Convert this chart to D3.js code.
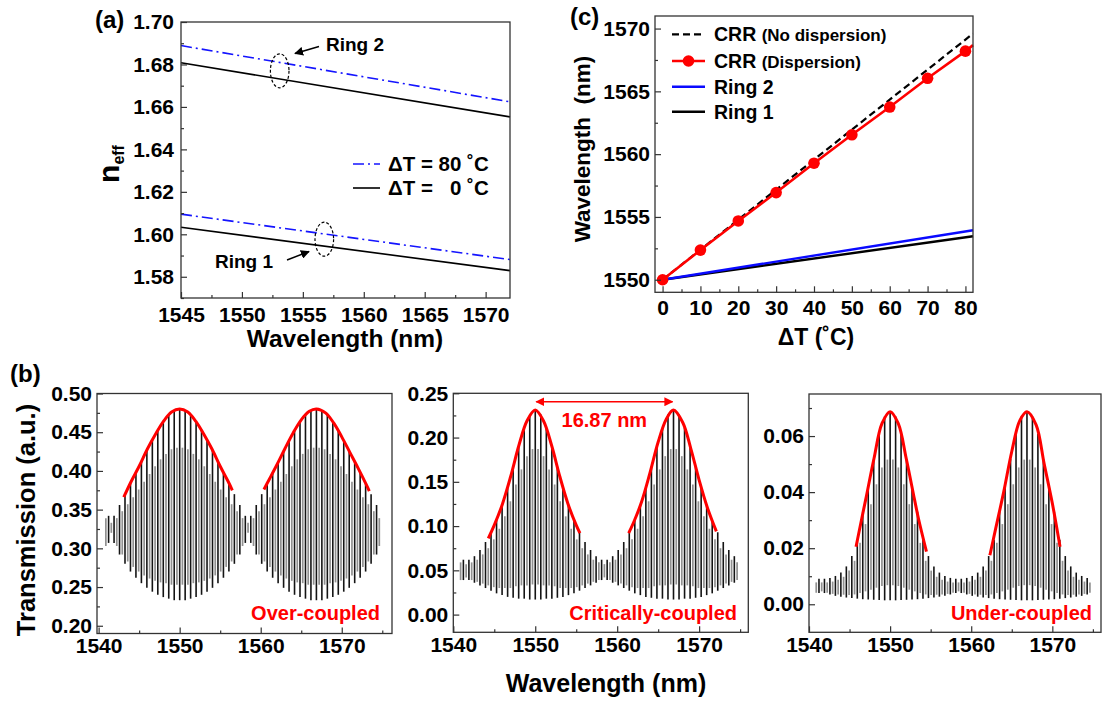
<!DOCTYPE html>
<html><head><meta charset="utf-8">
<script src="https://cdn.jsdelivr.net/npm/d3@7"></script>
<style>
body{margin:0;background:#fff;}
svg text{font-family:"Liberation Sans",Arial,sans-serif;font-weight:bold;}
</style></head><body>
<svg id="fig" width="1102" height="702"></svg>
<script>
// ---------- Panel (a) data ----------
const aWavelength = [1545, 1572];
const aRing2Hot  = [1.6889, 1.6624];
const aRing2Cold = [1.6808, 1.6553];
const aRing1Hot  = [1.6095, 1.5881];
const aRing1Cold = [1.6033, 1.5829];
const aXTicks = [1545, 1550, 1555, 1560, 1565, 1570];
const aYTicks = [1.58, 1.60, 1.62, 1.64, 1.66, 1.68, 1.70];
const aEllipses = [[1553.1, 1.6770], [1556.76, 1.5977]];

// ---------- Panel (c) data ----------
const cDeltaT = [0, 10, 20, 30, 40, 50, 60, 70, 80];
const cCrrDispersion = [1550.0, 1552.36, 1554.68, 1556.94, 1559.28, 1561.54, 1563.75, 1566.04, 1568.2];
const cEdgeT = 82;
const cCrrDispersionEdge = 1568.68;
const cLineT = [0, 82];
const cCrrNoDispersion = [1550.0, 1569.6];
const cRing2 = [1550.0, 1553.94];
const cRing1 = [1550.0, 1553.46];
const cXTicks = [0, 10, 20, 30, 40, 50, 60, 70, 80];
const cYTicks = [1550, 1555, 1560, 1565, 1570];

// ---------- Panel (b) data ----------
const bXTicks = [1540, 1550, 1560, 1570];
const bFringeStart = 1541.23, bFringeStep = 0.6748;
const bPeakWl = d3.range(50).map(k => bFringeStart + k * bFringeStep);
const bGrayWl = d3.range(51).map(k => bFringeStart - bFringeStep / 2 + k * bFringeStep);

// over-coupled
const ocPeakTop = [.342,.342,.356,.370,.384,.398,.412,.426,.440,.453,.464,.473,.478,.480,.478,.473,.464,.453,.440,.426,.412,.398,.384,.370,.356,
                   .342,.342,.356,.370,.384,.398,.412,.426,.440,.453,.464,.473,.478,.480,.478,.473,.464,.453,.440,.426,.412,.398,.384,.370,.356];
const ocPeakBot = [.307,.307,.292,.280,.270,.262,.255,.249,.244,.240,.237,.235,.233,.233,.233,.235,.237,.240,.244,.249,.255,.262,.270,.280,.292,
                   .307,.307,.292,.280,.270,.262,.255,.249,.244,.240,.237,.235,.233,.233,.233,.235,.237,.240,.244,.249,.255,.262,.270,.280,.292];
const ocGrayTop = [.339,.333,.339,.348,.357,.366,.376,.386,.396,.406,.415,.422,.428,.430,.430,.428,.422,.415,.406,.396,.386,.376,.366,.357,.348,
                   .339,.333,.339,.348,.357,.366,.376,.386,.396,.406,.415,.422,.428,.430,.430,.428,.422,.415,.406,.396,.386,.376,.366,.357,.348,.339];
const ocGrayBot = [.303,.320,.303,.292,.283,.276,.270,.265,.261,.258,.256,.255,.253,.253,.253,.253,.255,.256,.258,.261,.265,.270,.276,.283,.292,
                   .303,.320,.303,.292,.283,.276,.270,.265,.261,.258,.256,.255,.253,.253,.253,.253,.255,.256,.258,.261,.265,.270,.276,.283,.292,.303];
const ocRed1Wl = [1543.1,1544,1545,1546,1547,1548,1549,1550,1551,1552,1553,1554,1555,1556,1556.5];
const ocRed1   = [.366,.386,.406,.428,.447,.464,.476,.480,.476,.464,.447,.428,.406,.386,.375];
const ocRed2Wl = [1560.4,1561,1562,1563,1564,1565,1566,1566.87,1568,1569,1570,1571,1572,1573,1573.4];
const ocRed2   = [.376,.388,.408,.429,.449,.466,.477,.480,.475,.462,.444,.424,.404,.383,.374];

// critically-coupled
const ccPeakTop = [.062,.062,.066,.073,.082,.093,.107,.124,.144,.167,.190,.211,.226,.231,.226,.211,.190,.167,.144,.124,.107,.093,.082,.073,.066,
                   .062,.062,.066,.073,.082,.093,.107,.124,.144,.167,.190,.211,.226,.231,.226,.211,.190,.167,.144,.124,.107,.093,.082,.073,.066];
const ccPeakBot = [.039,.039,.036,.033,.030,.027,.024,.022,.020,.019,.018,.018,.017,.017,.017,.018,.018,.019,.020,.022,.024,.027,.030,.033,.036,
                   .039,.039,.036,.033,.030,.027,.024,.022,.020,.019,.018,.018,.017,.017,.017,.018,.018,.019,.020,.022,.024,.027,.030,.033,.036];
const ccGrayTop = [.059,.057,.059,.062,.068,.075,.085,.097,.111,.128,.147,.164,.179,.187,.187,.179,.164,.147,.128,.111,.097,.085,.075,.068,.062,
                   .059,.057,.059,.062,.068,.075,.085,.097,.111,.128,.147,.164,.179,.187,.187,.179,.164,.147,.128,.111,.097,.085,.075,.068,.062,.059];
const ccGrayBot = [.039,.042,.039,.037,.035,.033,.031,.030,.030,.030,.032,.033,.033,.034,.034,.033,.033,.032,.030,.030,.030,.031,.033,.035,.037,
                   .039,.042,.039,.037,.035,.033,.031,.030,.030,.030,.032,.033,.033,.034,.034,.033,.033,.032,.030,.030,.030,.031,.033,.035,.037,.039];
const ccRed1Wl = [1544.27,1545,1546,1547,1548,1549,1550,1551,1552,1553,1554,1555,1555.45];
const ccRed1   = [.086,.101,.125,.156,.191,.219,.231,.219,.191,.156,.125,.101,.092];
const ccRed2Wl = [1561.4,1562,1563,1564,1565,1566,1566.87,1568,1569,1570,1571,1572.1];
const ccRed2   = [.092,.104,.128,.160,.195,.221,.231,.217,.187,.152,.121,.094];
const ccSpacing = [1550, 1566.87];
const ccSpacingLevel = 0.2405;
const ccSpacingLabel = "16.87 nm";

// under-coupled
const ucPeakTop = [.0091,.0091,.0094,.0101,.0113,.0135,.0172,.0230,.0330,.0422,.0518,.0608,.0670,.0687,.0670,.0608,.0518,.0422,.0330,.0230,.0172,.0135,.0113,.0101,.0094,
                   .0091,.0091,.0094,.0101,.0113,.0135,.0172,.0230,.0330,.0422,.0518,.0608,.0670,.0687,.0670,.0608,.0518,.0422,.0330,.0230,.0172,.0135,.0113,.0101,.0094];
const ucPeakBot = [.0040,.0040,.0035,.0030,.0027,.0024,.0022,.0020,.0018,.0017,.0016,.0015,.0014,.0014,.0014,.0015,.0016,.0017,.0018,.0020,.0022,.0024,.0027,.0030,.0035,
                   .0040,.0040,.0035,.0030,.0027,.0024,.0022,.0020,.0018,.0017,.0016,.0015,.0014,.0014,.0014,.0015,.0016,.0017,.0018,.0020,.0022,.0024,.0027,.0030,.0035];
const ucGrayTop = [.0078,.0078,.0078,.0081,.0087,.0098,.0120,.0155,.0219,.0286,.0357,.0428,.0488,.0516,.0516,.0488,.0428,.0357,.0286,.0219,.0155,.0120,.0098,.0087,.0081,
                   .0078,.0078,.0078,.0081,.0087,.0098,.0120,.0155,.0219,.0286,.0357,.0428,.0488,.0516,.0516,.0488,.0428,.0357,.0286,.0219,.0155,.0120,.0098,.0087,.0081,.0078];
const ucGrayBot = [.0041,.0046,.0041,.0037,.0035,.0034,.0033,.0035,.0040,.0046,.0052,.0059,.0065,.0068,.0068,.0065,.0059,.0052,.0046,.0040,.0035,.0033,.0034,.0035,.0037,
                   .0041,.0046,.0041,.0037,.0035,.0034,.0033,.0035,.0040,.0046,.0052,.0059,.0065,.0068,.0068,.0065,.0059,.0052,.0046,.0040,.0035,.0033,.0034,.0035,.0037,.0041];
const ucRed1Wl = [1545.8,1546.5,1547,1548,1549,1550,1551,1552,1553,1553.5,1554.48];
const ucRed1   = [.0205,.0305,.0375,.0518,.0645,.0687,.0645,.0518,.0375,.0305,.0188];
const ucRed2Wl = [1562.3,1563,1564,1565,1566,1566.87,1568,1569,1570,1570.95];
const ucRed2   = [.0175,.0268,.0400,.0545,.0656,.0687,.0640,.0500,.0360,.0205];

// ---------- drawing ----------
const FONT = '"Liberation Sans", Arial, sans-serif';
const TICK_FS = 21;
const svg = d3.select("#fig");
const defs = svg.append("defs");
function marker(id, color, orient) {
  defs.append("marker").attr("id", id).attr("viewBox", "0 0 10 10").attr("refX", 9).attr("refY", 5)
    .attr("markerWidth", 9).attr("markerHeight", 9).attr("markerUnits", "userSpaceOnUse").attr("orient", orient)
    .append("path").attr("d", "M0,0 L10,5 L0,10 z").attr("fill", color);
}
marker("arrBlack", "#000", "auto");
marker("arrRed", "#f00", "auto-start-reverse");

function txt(x, y, s, size, opts = {}) {
  const t = svg.append("text").attr("x", x).attr("y", y).attr("font-size", size)
    .attr("font-family", FONT).attr("font-weight", "bold").attr("fill", opts.fill || "#000")
    .attr("text-anchor", opts.anchor || "start").style("white-space", "pre").attr("xml:space", "preserve");
  if (opts.rotate) t.attr("transform", `rotate(-90,${x},${y})`);
  t.text(s);
  return t;
}

function axesFrame(x, y, o) {
  const g = svg.append("g");
  const [xa, xb] = x.range(), [yb, ya] = y.range();
  const style = s => {
    s.select(".domain").remove();
    s.selectAll("line").attr("stroke", "#333").attr("stroke-width", 1.2);
    s.selectAll("text").attr("fill", "#000").attr("font-size", TICK_FS).attr("font-family", FONT).attr("font-weight", "bold");
  };
  g.append("g").attr("transform", `translate(0,${yb})`)
    .call(d3.axisBottom(x).tickValues(o.xMinor).tickSize(-3).tickFormat("")).call(style);
  g.append("g").attr("transform", `translate(0,${yb})`)
    .call(d3.axisBottom(x).tickValues(o.xTicks).tickSize(-6).tickPadding(o.xPad).tickFormat(d3.format("d"))).call(style);
  g.append("g").attr("transform", `translate(${xa},0)`)
    .call(d3.axisLeft(y).tickValues(o.yMinor).tickSize(-3).tickFormat("")).call(style);
  g.append("g").attr("transform", `translate(${xa},0)`)
    .call(d3.axisLeft(y).tickValues(o.yTicks).tickSize(-6).tickPadding(o.yPad).tickFormat(o.yFmt)).call(style);
  g.append("rect").attr("x", xa).attr("y", ya).attr("width", xb - xa).attr("height", yb - ya)
    .attr("fill", "none").attr("stroke", "#333").attr("stroke-width", 1.3);
}

// ===== Panel (a) =====
{
  const x = d3.scaleLinear([1545, 1572], [181, 510]);
  const y = d3.scaleLinear([1.57, 1.70], [298, 22]);
  const line = d3.line().x(d => x(d[0])).y(d => y(d[1]));
  const series = [
    [aRing2Hot, "#1414ff", "11,4,2,4"], [aRing2Cold, "#000", null],
    [aRing1Hot, "#1414ff", "11,4,2,4"], [aRing1Cold, "#000", null]];
  series.forEach(([vals, col, dash]) => {
    svg.append("path").datum(aWavelength.map((w, i) => [w, vals[i]])).attr("d", line)
      .attr("fill", "none").attr("stroke", col).attr("stroke-width", 1.6).attr("stroke-dasharray", dash);
  });
  aEllipses.forEach(([w, n]) => {
    svg.append("ellipse").attr("cx", x(w)).attr("cy", y(n)).attr("rx", 9.3).attr("ry", 17)
      .attr("fill", "none").attr("stroke", "#000").attr("stroke-width", 1.2).attr("stroke-dasharray", "3,2");
  });
  axesFrame(x, y, { xTicks: aXTicks, xMinor: d3.range(1547.5, 1570, 5), yTicks: aYTicks,
    yMinor: [1.57, 1.59, 1.61, 1.63, 1.65, 1.67, 1.69], xPad: 9, yPad: 7, yFmt: d3.format(".2f") });
  // annotations
  txt(326, 51, "Ring 2", 19);
  svg.append("line").attr("x1", 319).attr("y1", 46.5).attr("x2", 295).attr("y2", 53.5)
    .attr("stroke", "#000").attr("stroke-width", 1.5).attr("marker-end", "url(#arrBlack)");
  txt(215, 268, "Ring 1", 19);
  svg.append("line").attr("x1", 287).attr("y1", 260).attr("x2", 309).attr("y2", 251.5)
    .attr("stroke", "#000").attr("stroke-width", 1.5).attr("marker-end", "url(#arrBlack)");
  // legend
  svg.append("line").attr("x1", 353).attr("x2", 380).attr("y1", 164).attr("y2", 164)
    .attr("stroke", "#1414ff").attr("stroke-width", 1.6).attr("stroke-dasharray", "11,4,2,4");
  txt(388, 171, "ΔT = 80 ˚C", 20.5);
  svg.append("line").attr("x1", 353).attr("x2", 380).attr("y1", 188).attr("y2", 188)
    .attr("stroke", "#000").attr("stroke-width", 1.6);
  txt(388, 195, "ΔT =   0 ˚C", 20.5);
  txt(95, 28, "(a)", 24);
  txt(345, 347, "Wavelength (nm)", 24.5, { anchor: "middle" });
  const nt = svg.append("text").attr("transform", "translate(119,164) rotate(-90)")
    .attr("text-anchor", "middle").attr("font-family", FONT).attr("font-weight", "bold").attr("fill", "#000");
  nt.append("tspan").attr("font-size", 30).text("n");
  nt.append("tspan").attr("font-size", 16).attr("dy", 5).text("eff");
}

// ===== Panel (c) =====
{
  const x = d3.scaleLinear([-2, 82], [655, 973]);
  const y = d3.scaleLinear([1549, 1571], [292.3, 16]);
  const line = d3.line().x(d => x(d[0])).y(d => y(d[1]));
  const two = v => cLineT.map((t, i) => [t, v[i]]);
  svg.append("path").datum(two(cRing1)).attr("d", line).attr("fill", "none").attr("stroke", "#000").attr("stroke-width", 2.4);
  svg.append("path").datum(two(cRing2)).attr("d", line).attr("fill", "none").attr("stroke", "#0a0aff").attr("stroke-width", 2.4);
  svg.append("path").datum(two(cCrrNoDispersion)).attr("d", line).attr("fill", "none").attr("stroke", "#000")
    .attr("stroke-width", 2.2).attr("stroke-dasharray", "7,4");
  const red = cDeltaT.map((t, i) => [t, cCrrDispersion[i]]).concat([[cEdgeT, cCrrDispersionEdge]]);
  svg.append("path").datum(red).attr("d", line).attr("fill", "none").attr("stroke", "#f00").attr("stroke-width", 2.6);
  svg.append("g").selectAll("circle").data(cDeltaT).join("circle")
    .attr("cx", d => x(d)).attr("cy", (d, i) => y(cCrrDispersion[i])).attr("r", 5.8).attr("fill", "#f00");
  axesFrame(x, y, { xTicks: cXTicks, xMinor: d3.range(5, 80, 10), yTicks: cYTicks,
    yMinor: [1552.5, 1557.5, 1562.5, 1567.5], xPad: 8, yPad: 5, yFmt: d3.format("d") });
  // legend
  const rows = [34.3, 61, 86.7, 111.7];
  svg.append("line").attr("x1", 672).attr("x2", 705).attr("y1", rows[0]).attr("y2", rows[0])
    .attr("stroke", "#000").attr("stroke-width", 2.2).attr("stroke-dasharray", "7,4");
  svg.append("line").attr("x1", 672).attr("x2", 705).attr("y1", rows[1]).attr("y2", rows[1])
    .attr("stroke", "#f00").attr("stroke-width", 2.6);
  svg.append("circle").attr("cx", 688.5).attr("cy", rows[1]).attr("r", 5.8).attr("fill", "#f00");
  svg.append("line").attr("x1", 672).attr("x2", 705).attr("y1", rows[2]).attr("y2", rows[2])
    .attr("stroke", "#0a0aff").attr("stroke-width", 2.4);
  svg.append("line").attr("x1", 672).attr("x2", 705).attr("y1", rows[3]).attr("y2", rows[3])
    .attr("stroke", "#000").attr("stroke-width", 2.4);
  const l1 = txt(714, rows[0] + 7, "CRR ", 19.5);
  l1.append("tspan").attr("font-size", 17).text("(No dispersion)");
  const l2 = txt(714, rows[1] + 7, "CRR ", 19.5);
  l2.append("tspan").attr("font-size", 17).text("(Dispersion)");
  txt(714, rows[2] + 7, "Ring 2", 19.5);
  txt(714, rows[3] + 7, "Ring 1", 19.5);
  txt(570, 25, "(c)", 24);
  txt(816, 345, "ΔT (˚C)", 23, { anchor: "middle" });
  txt(590, 149, "Wavelength  (nm)", 22.5, { anchor: "middle", rotate: true });
}

// ===== Panel (b) =====
function spectrumPanel(p) {
  const x = d3.scaleLinear(p.xDomain, p.xRange);
  const y = d3.scaleLinear(p.yDomain, p.yRange);
  const g = svg.append("g");
  g.append("g").selectAll("line").data(bGrayWl).join("line")
    .attr("x1", d => x(d)).attr("x2", d => x(d))
    .attr("y1", (d, i) => y(p.grayBot[i])).attr("y2", (d, i) => y(p.grayTop[i]))
    .attr("stroke", "#909090").attr("stroke-width", 1.7);
  g.append("g").selectAll("line").data(bPeakWl).join("line")
    .attr("x1", d => x(d)).attr("x2", d => x(d))
    .attr("y1", (d, i) => y(p.peakBot[i])).attr("y2", (d, i) => y(p.peakTop[i]))
    .attr("stroke", "#141414").attr("stroke-width", 1.6);
  const line = d3.line().x(d => x(d[0])).y(d => y(d[1])).curve(d3.curveCatmullRom);
  p.red.forEach(([wl, v]) => {
    g.append("path").datum(wl.map((w, i) => [w, v[i]])).attr("d", line)
      .attr("fill", "none").attr("stroke", "#f00").attr("stroke-width", 3);
  });
  axesFrame(x, y, { xTicks: bXTicks, xMinor: [1545, 1555, 1565, 1575], yTicks: p.yTicks,
    yMinor: p.yMinor, xPad: 5, yPad: 5, yFmt: d3.format(".2f") });
  txt(p.labelX, 620, p.label, 20, { anchor: "end", fill: "#f00" });
  return { x, y };
}

spectrumPanel({ xDomain: [1539.8, 1576.2], xRange: [97, 392], yDomain: [0.19, 0.50], yRange: [633.5, 393.5],
  yTicks: [0.20, 0.25, 0.30, 0.35, 0.40, 0.45, 0.50], yMinor: [0.225, 0.275, 0.325, 0.375, 0.425, 0.475],
  peakTop: ocPeakTop, peakBot: ocPeakBot, grayTop: ocGrayTop, grayBot: ocGrayBot,
  red: [[ocRed1Wl, ocRed1], [ocRed2Wl, ocRed2]], label: "Over-coupled", labelX: 380 });

const mid = spectrumPanel({ xDomain: [1540, 1576], xRange: [453.3, 748.3], yDomain: [-0.02, 0.25], yRange: [632.3, 393.3],
  yTicks: [0.00, 0.05, 0.10, 0.15, 0.20, 0.25], yMinor: [0.025, 0.075, 0.125, 0.175, 0.225],
  peakTop: ccPeakTop, peakBot: ccPeakBot, grayTop: ccGrayTop, grayBot: ccGrayBot,
  red: [[ccRed1Wl, ccRed1], [ccRed2Wl, ccRed2]], label: "Critically-coupled", labelX: 737 });

spectrumPanel({ xDomain: [1540, 1576], xRange: [809, 1101], yDomain: [-0.01, 0.075], yRange: [632.3, 394],
  yTicks: [0.00, 0.02, 0.04, 0.06], yMinor: [0.01, 0.03, 0.05, 0.07],
  peakTop: ucPeakTop, peakBot: ucPeakBot, grayTop: ucGrayTop, grayBot: ucGrayBot,
  red: [[ucRed1Wl, ucRed1], [ucRed2Wl, ucRed2]], label: "Under-coupled", labelX: 1092 });

// spacing annotation in critically-coupled panel
svg.append("line").attr("x1", mid.x(ccSpacing[0]) + 1).attr("x2", mid.x(ccSpacing[1]) - 1)
  .attr("y1", mid.y(ccSpacingLevel)).attr("y2", mid.y(ccSpacingLevel))
  .attr("stroke", "#f00").attr("stroke-width", 1.6)
  .attr("marker-start", "url(#arrRed)").attr("marker-end", "url(#arrRed)");
txt(mid.x((ccSpacing[0] + ccSpacing[1]) / 2), 427, ccSpacingLabel, 20, { anchor: "middle", fill: "#f00" });

txt(10, 382, "(b)", 24);
txt(35, 520, "Transmission (a.u.)", 25.5, { anchor: "middle", rotate: true });
txt(606, 692, "Wavelength (nm)", 25, { anchor: "middle" });
</script></body></html>
